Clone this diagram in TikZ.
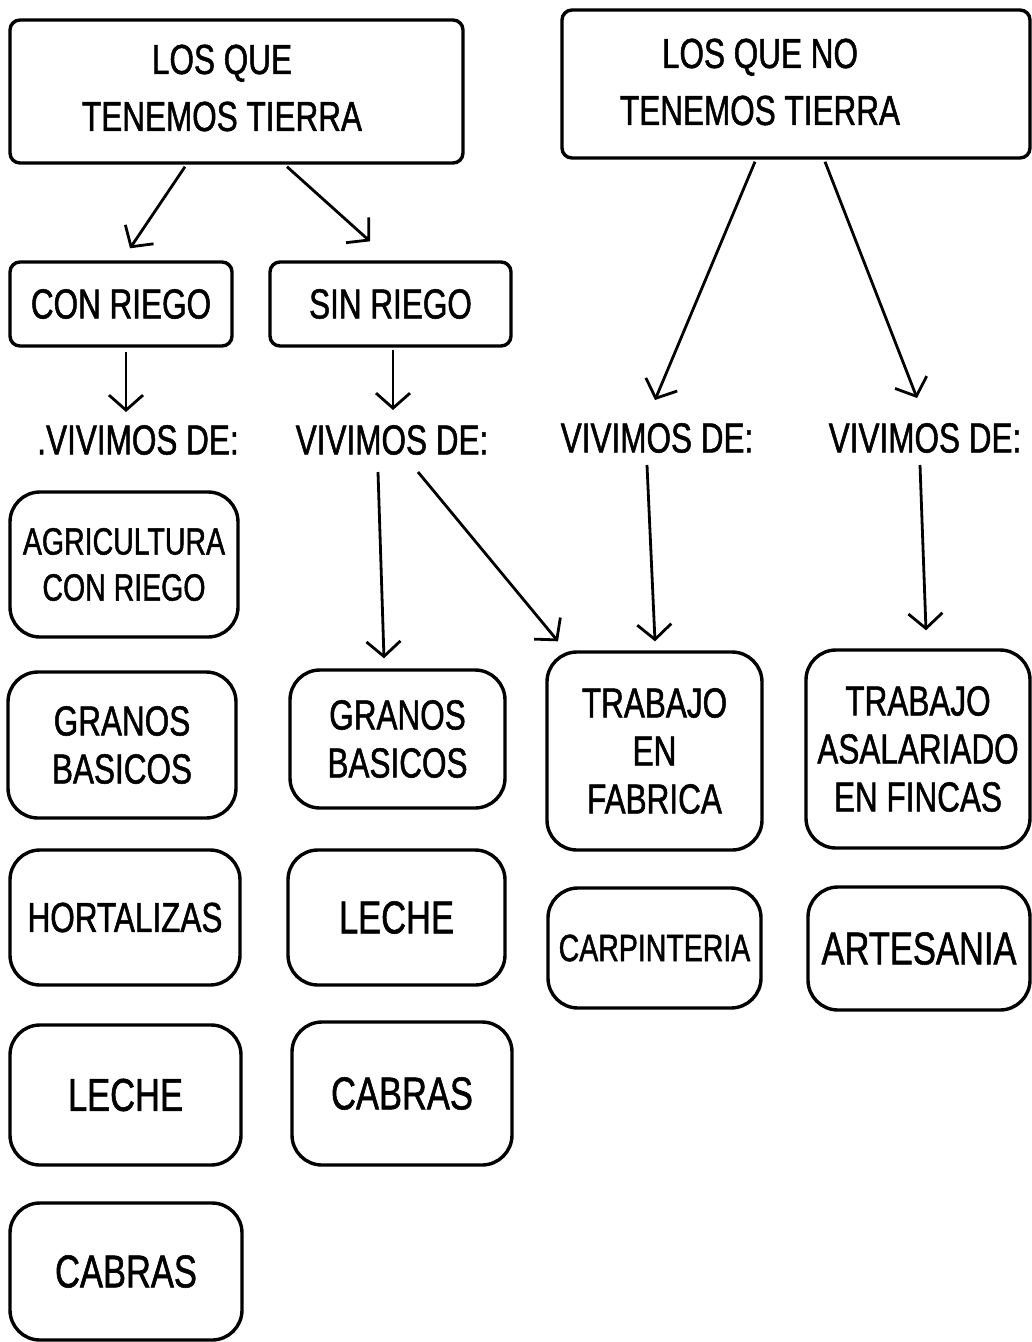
\documentclass[tikz,border=0pt]{standalone}
\usepackage{fontspec}
\setmainfont[FakeStretch=0.75,FakeBold=1.2]{Liberation Sans}
\usetikzlibrary{arrows.meta}
\begin{document}
\begin{tikzpicture}[x=1pt,y=-1pt,
  every node/.style={font=\fontsize{42}{48}\selectfont, align=center, inner sep=0pt},
  hbox/.style={draw, line width=3.4pt, rounded corners=10pt},
  rbox/.style={draw, line width=3.4pt, rounded corners=30pt},
  arr/.style={line width=2.8pt, -{Straight Barb[length=15pt,width=34pt,line width=2.8pt]}},
  big/.style={font=\fontsize{46}{50}\selectfont},
  small/.style={font=\fontsize{38}{46}\selectfont},
  head/.style={font=\fontsize{42}{57}\selectfont}]
\useasboundingbox[fill=white] (0,0) rectangle (1032,1342);

% headers
\node[hbox, minimum width=453pt, minimum height=143pt] (t1) at (236.5,91.5) {};
\node[head] (t1t) at (222,88) {LOS QUE\\TENEMOS TIERRA};
\node[hbox, minimum width=468pt, minimum height=148pt] (t2) at (796,84) {};
\node[head] (t2t) at (760,82) {LOS QUE NO\\TENEMOS TIERRA};

\node[hbox, minimum width=222pt, minimum height=84pt] (cr) at (121,304) {CON RIEGO};
\node[hbox, minimum width=241pt, minimum height=84pt] (sr) at (390.5,304) {SIN RIEGO};

% vivimos labels
\node (v1) at (138,440) {.VIVIMOS DE:};
\node (v2) at (392,440) {VIVIMOS DE:};
\node (v3) at (657,438) {VIVIMOS DE:};
\node (v4) at (925,438) {VIVIMOS DE:};

% column 1
\node[rbox, small, minimum width=228pt, minimum height=145pt] (a1) at (124,564.5) {AGRICULTURA\\CON RIEGO};
\node[rbox, minimum width=228pt, minimum height=146pt] (a2) at (122,745) {GRANOS\\BASICOS};
\node[rbox, minimum width=230pt, minimum height=135pt] (a3) at (125,917.5) {HORTALIZAS};
\node[rbox, big, minimum width=231pt, minimum height=140pt] (a4) at (125.5,1095) {LECHE};
\node[rbox, big, minimum width=232pt, minimum height=137pt] (a5) at (126,1271.5) {CABRAS};
% column 2
\node[rbox, minimum width=215pt, minimum height=138pt] (b1) at (397.5,739) {GRANOS\\BASICOS};
\node[rbox, big, minimum width=217pt, minimum height=135pt] (b2) at (396.5,917.5) {LECHE};
\node[rbox, big, minimum width=220pt, minimum height=143pt] (b3) at (402,1093.5) {CABRAS};
% column 3
\node[rbox, minimum width=215pt, minimum height=198pt] (c1) at (654.5,751) {TRABAJO\\EN\\FABRICA};
\node[rbox, small, minimum width=213pt, minimum height=120pt] (c2) at (654.5,948) {CARPINTERIA};
% column 4
\node[rbox, minimum width=224pt, minimum height=198pt] (d1) at (918,749) {TRABAJO\\ASALARIADO\\EN FINCAS};
\node[rbox, big, minimum width=222pt, minimum height=123pt] (d2) at (919,948.5) {ARTESANIA};

% arrows
\draw[arr] ([xshift=-51.5pt,yshift=-2pt]t1.south) -- ([xshift=9pt,yshift=12pt]cr.north);
\draw[arr] ([xshift=50.5pt,yshift=-2pt]t1.south) -- ([xshift=-20.5pt,yshift=19pt]sr.north);
\draw[arr] ([xshift=5pt,yshift=-4pt]cr.south) -- ([xshift=-12pt,yshift=28pt]v1.center);
\draw[arr] ([xshift=2.5pt,yshift=-2pt]sr.south) -- ([xshift=1pt,yshift=30pt]v2.center);
\draw[arr] ([xshift=-41pt,yshift=-2pt]t2.south) -- ([xshift=-2pt,yshift=38pt]v3.center);
\draw[arr] ([xshift=29pt,yshift=-2pt]t2.south) -- ([xshift=-8pt,yshift=40pt]v4.center);
\draw[arr] ([xshift=-14pt,yshift=-32pt]v2.center) -- ([xshift=-13.5pt,yshift=10pt]b1.north);
\draw[arr] ([xshift=26pt,yshift=-32pt]v2.center) -- ([xshift=-96.5pt,yshift=9pt]c1.north);
\draw[arr] ([xshift=-10pt,yshift=-27pt]v3.center) -- ([xshift=0.5pt,yshift=9pt]c1.north);
\draw[arr] ([xshift=-5pt,yshift=-27pt]v4.center) -- ([xshift=8pt,yshift=18pt]d1.north);
\end{tikzpicture}
\end{document}
